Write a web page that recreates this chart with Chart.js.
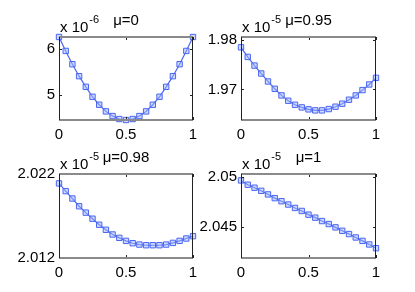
<!DOCTYPE html>
<html>
<head>
<meta charset="utf-8">
<script src="https://cdn.jsdelivr.net/npm/chart.js@4/dist/chart.umd.min.js"></script>
<style>
body { margin: 0; background: #fff; }
#wrap { position: relative; width: 415px; height: 292px; }
canvas { position: absolute; left: 0; top: 0; }
</style>
</head>
<body>
<div id="wrap">
  <canvas id="c1" width="415" height="292"></canvas>
  <canvas id="c2" width="415" height="292"></canvas>
  <canvas id="c3" width="415" height="292"></canvas>
  <canvas id="c4" width="415" height="292"></canvas>
</div>
<script>
// x positions along the interval, same for all four panels
let xValues = [0, 0.05, 0.1, 0.15, 0.2, 0.25, 0.3, 0.35, 0.4, 0.45, 0.5,
               0.55, 0.6, 0.65, 0.7, 0.75, 0.8, 0.85, 0.9, 0.95, 1];
let xTicks = [0, 0.5, 1];
let xTickLabels = ['0', '0.5', '1'];

// values in units of the axis multiplier (x 10^-6 / x 10^-5)
let mu0 = [6.268, 5.964, 5.674, 5.413, 5.181, 4.964, 4.790, 4.645, 4.543, 4.478, 4.457,
           4.478, 4.543, 4.645, 4.790, 4.964, 5.181, 5.413, 5.674, 5.964, 6.268];
let mu095 = [1.97858, 1.97662, 1.97486, 1.97324, 1.97162, 1.97013, 1.96878, 1.96769, 1.96688, 1.96634, 1.96594,
             1.96573, 1.96573, 1.96600, 1.96648, 1.96709, 1.96790, 1.96878, 1.96986, 1.97101, 1.97236];
let mu098 = [2.02088, 2.01996, 2.01908, 2.01816, 2.01740, 2.01668, 2.01596, 2.01536, 2.01480, 2.01440, 2.01404,
             2.01376, 2.01360, 2.01352, 2.01352, 2.01352, 2.01360, 2.01380, 2.01404, 2.01432, 2.01460];
let mu1 = [2.04966, 2.04923, 2.04893, 2.04862, 2.04826, 2.04789, 2.04758, 2.04725, 2.04691, 2.04661, 2.04624,
           2.04594, 2.04560, 2.04530, 2.04497, 2.04463, 2.04430, 2.04396, 2.04362, 2.04326, 2.04289];

let titles = ['\u03bc=0', '\u03bc=0.95', '\u03bc=0.98', '\u03bc=1'];
let exponents = ['-6', '-5', '-5', '-5'];
let yTicks = [[5, 6], [1.97, 1.98], [2.012, 2.022], [2.045, 2.05]];
let yTickLabels = [['5', '6'], ['1.97', '1.98'], ['2.012', '2.022'], ['2.045', '2.05']];
let yLimits = [[4.457, 6.268], [1.96377, 1.98068], [2.012, 2.022], [2.04191, 2.0503]];
let series = [mu0, mu095, mu098, mu1];

// plot boxes in page pixels: left, top, right, bottom
let boxes = [[59, 37, 193, 120], [241, 37, 376, 120], [59, 174, 193, 258], [241, 174, 376, 258]];

const FONT = '"Liberation Sans", Arial, Helvetica, sans-serif';
const Y_AXIS_W = 50;
const X_AXIS_H = 30;

// MATLAB-like box, inward ticks, multiplier and title
let matlabBox = {
  id: 'matlabBox',
  afterDraw(chart, args, opts) {
    let ctx = chart.ctx;
    let a = chart.chartArea;
    let xs = chart.scales.x, ys = chart.scales.y;
    ctx.save();
    // ticks inside the box
    ctx.strokeStyle = '#222';
    ctx.lineWidth = 1;
    ctx.beginPath();
    xTicks.forEach(v => {
      let px = Math.round(xs.getPixelForValue(v)) + 0.5;
      ctx.moveTo(px, a.top); ctx.lineTo(px, a.top + 3);
      ctx.moveTo(px, a.bottom); ctx.lineTo(px, a.bottom - 3);
    });
    yTicks[opts.idx].forEach(v => {
      let py = Math.round(ys.getPixelForValue(v)) + 0.5;
      ctx.moveTo(a.left, py); ctx.lineTo(a.left + 3, py);
      ctx.moveTo(a.right, py); ctx.lineTo(a.right - 3, py);
    });
    ctx.stroke();
    // box: top/bottom look grey and soft, sides dark
    ctx.strokeStyle = '#8a8a8a';
    ctx.lineWidth = 2;
    ctx.beginPath();
    ctx.moveTo(a.left, a.top); ctx.lineTo(a.right, a.top);
    ctx.moveTo(a.left, a.bottom); ctx.lineTo(a.right, a.bottom);
    ctx.stroke();
    ctx.strokeStyle = '#222';
    ctx.lineWidth = 1;
    ctx.beginPath();
    ctx.moveTo(a.left + 0.5, a.top); ctx.lineTo(a.left + 0.5, a.bottom);
    ctx.moveTo(a.right - 0.5, a.top); ctx.lineTo(a.right - 0.5, a.bottom);
    ctx.stroke();
    // multiplier "x 10^-n"
    ctx.fillStyle = '#000';
    ctx.textAlign = 'left';
    ctx.textBaseline = 'alphabetic';
    ctx.font = '15px ' + FONT;
    let base = 'x 10';
    ctx.fillText(base, a.left + 1, a.top - 5);
    let w = ctx.measureText(base).width;
    ctx.font = '11px ' + FONT;
    ctx.fillText(exponents[opts.idx], a.left + 1 + w + 1, a.top - 14);
    // title
    ctx.font = '15px ' + FONT;
    ctx.textAlign = 'center';
    ctx.fillText(titles[opts.idx], (a.left + a.right) / 2, a.top - 12);
    ctx.restore();
  }
};

series.forEach((vals, i) => {
  let b = boxes[i];
  new Chart(document.getElementById('c' + (i + 1)), {
    type: 'line',
    data: {
      labels: xValues,
      datasets: [{
        data: xValues.map((x, k) => ({ x: x, y: vals[k] })),
        borderColor: '#4a66f0',
        borderWidth: 1.2,
        backgroundColor: 'rgba(150, 170, 255, 0.55)',
        pointStyle: 'rect',
        pointRadius: 3.8,
        pointBorderColor: '#4a66f0',
        pointBorderWidth: 1,
        pointBackgroundColor: 'rgba(160, 180, 255, 0.5)',
        tension: 0,
        clip: false,
      }],
    },
    options: {
      responsive: false,
      animation: false,
      events: [],
      layout: {
        padding: {
          left: b[0] - Y_AXIS_W,
          top: b[1],
          right: 415 - b[2],
          bottom: 292 - b[3] - X_AXIS_H,
        },
      },
      plugins: {
        legend: { display: false },
        tooltip: { enabled: false },
        matlabBox: { idx: i },
      },
      scales: {
        x: {
          type: 'linear',
          min: 0,
          max: 1,
          grid: { display: false, drawTicks: false },
          border: { display: false },
          afterBuildTicks: s => { s.ticks = xTicks.map(v => ({ value: v })); },
          afterFit: s => { s.height = X_AXIS_H; },
          ticks: {
            padding: 6,
            maxRotation: 0,
            color: '#000',
            font: { family: FONT, size: 15 },
            callback: v => xTickLabels[xTicks.indexOf(v)],
          },
        },
        y: {
          type: 'linear',
          min: yLimits[i][0],
          max: yLimits[i][1],
          grid: { display: false, drawTicks: false },
          border: { display: false },
          afterBuildTicks: s => { s.ticks = yTicks[i].map(v => ({ value: v })); },
          afterFit: s => { s.width = Y_AXIS_W; },
          ticks: {
            padding: 4,
            color: '#000',
            font: { family: FONT, size: 15 },
            callback: v => yTickLabels[i][yTicks[i].indexOf(v)],
          },
        },
      },
    },
    plugins: [matlabBox],
  });
});
</script>
</body>
</html>
